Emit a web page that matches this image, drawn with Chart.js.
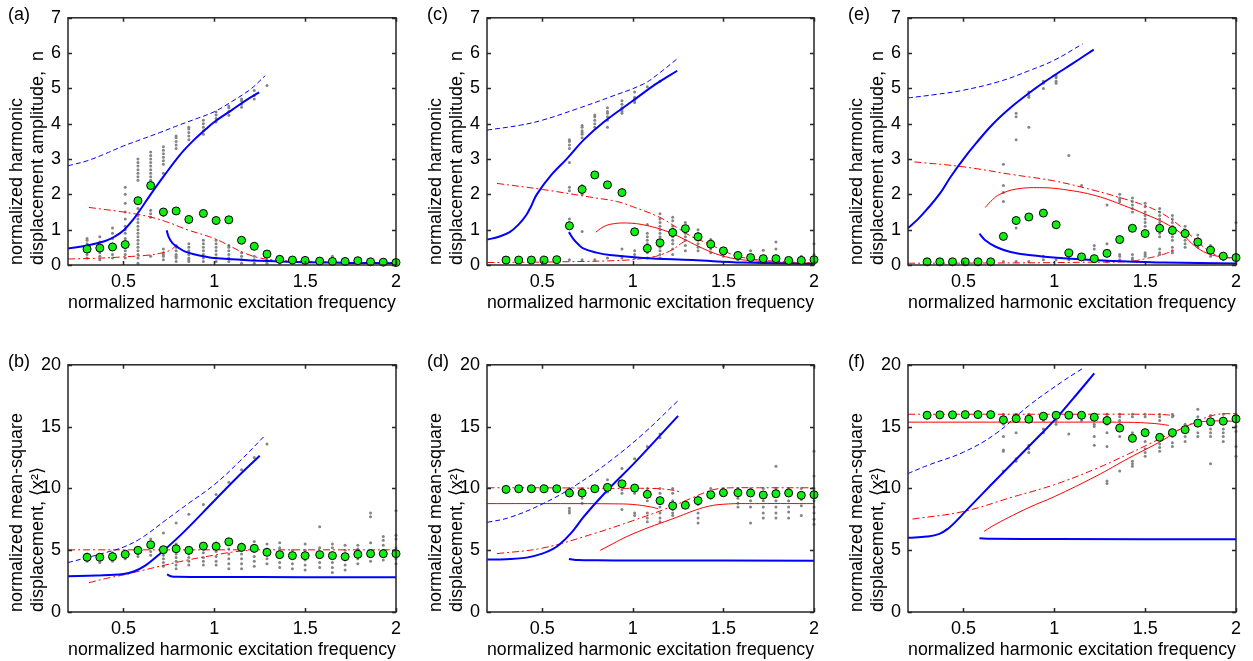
<!DOCTYPE html>
<html>
<head>
<meta charset="utf-8">
<script src="https://cdn.jsdelivr.net/npm/chart.js@4/dist/chart.umd.min.js"></script>
<style>
  body { margin: 0; background: #fff; width: 1253px; height: 661px; overflow: hidden; position: relative; }
  .panel { position: absolute; }
</style>
</head>
<body>
<div class="panel" style="left:0px;top:0px"><canvas id="pa" width="407" height="313"></canvas></div>
<div class="panel" style="left:419px;top:0px"><canvas id="pc" width="406" height="313"></canvas></div>
<div class="panel" style="left:840px;top:0px"><canvas id="pe" width="407" height="313"></canvas></div>
<div class="panel" style="left:0px;top:347px"><canvas id="pb" width="407" height="313"></canvas></div>
<div class="panel" style="left:419px;top:347px"><canvas id="pd" width="406" height="313"></canvas></div>
<div class="panel" style="left:840px;top:347px"><canvas id="pf" width="407" height="313"></canvas></div>
<script>
// excitation frequencies of the measured runs
const freq = [0.30, 0.37, 0.44, 0.51, 0.58, 0.65, 0.72, 0.79, 0.86, 0.94, 1.01, 1.08, 1.15,
              1.22, 1.29, 1.36, 1.43, 1.50, 1.58, 1.65, 1.72, 1.79, 1.86, 1.93, 2.00];
const freqTicks = [0.5, 1, 1.5, 2];
const ampTicks = [0, 1, 2, 3, 4, 5, 6, 7];
const msTicks = [0, 5, 10, 15, 20];

// mean of each run (green)
const meanA = [0.45, 0.48, 0.51, 0.58, 1.82, 2.25, 1.50, 1.53, 1.29, 1.46, 1.26, 1.28, 0.70, 0.53, 0.31, 0.16, 0.14, 0.13, 0.11, 0.10, 0.10, 0.12, 0.09, 0.08, 0.07];
const meanC = [0.14, 0.14, 0.14, 0.14, 0.15, 1.11, 2.14, 2.55, 2.27, 2.05, 0.94, 0.47, 0.63, 0.92, 1.03, 0.80, 0.59, 0.40, 0.27, 0.21, 0.18, 0.18, 0.13, 0.13, 0.15];
const meanE = [0.09, 0.09, 0.09, 0.09, 0.09, 0.09, 0.81, 1.26, 1.36, 1.47, 1.14, 0.34, 0.23, 0.18, 0.33, 0.72, 1.04, 0.89, 1.04, 0.98, 0.89, 0.65, 0.42, 0.25, 0.21];
const meanB = [4.43, 4.43, 4.48, 4.67, 4.99, 5.44, 5.04, 5.12, 4.99, 5.33, 5.31, 5.68, 5.23, 5.15, 4.83, 4.64, 4.56, 4.56, 4.64, 4.56, 4.48, 4.67, 4.72, 4.72, 4.72];
const meanD = [9.92, 9.97, 9.97, 9.97, 9.97, 9.63, 9.63, 9.97, 10.08, 10.37, 10.03, 9.52, 9.01, 8.59, 8.64, 9.01, 9.49, 9.65, 9.65, 9.63, 9.47, 9.57, 9.63, 9.44, 9.49];
const meanF = [15.92, 15.95, 15.95, 15.97, 15.97, 15.97, 15.55, 15.65, 15.60, 15.84, 15.92, 15.92, 15.92, 15.76, 15.49, 14.88, 14.05, 14.51, 14.13, 14.51, 14.75, 15.28, 15.39, 15.44, 15.63];

// single realisations, one list per frequency (grey)
const runsA = [
  [0.2, 0.3, 0.4, 0.5, 0.6, 0.7, 0.75], [0.15, 0.25, 0.35, 0.45, 0.55, 0.65, 0.8],
  [0.2, 0.3, 0.45, 0.6, 0.75, 0.9, 1.05], [0.2, 0.3, 0.4, 0.5, 0.6, 0.75, 0.9, 1.0, 1.1, 1.3, 1.5, 1.75, 2.0, 2.2],
  [0.05, 0.2, 0.3, 0.4, 0.5, 0.6, 0.7, 0.8, 0.9, 1.0, 1.1, 1.2, 1.3, 1.4, 1.6, 2.4, 2.5, 2.6, 2.7, 2.8, 2.9, 3.0],
  [0.25, 1.35, 1.45, 1.55, 2.3, 2.4, 2.5, 2.6, 2.7, 2.8, 2.9, 3.0, 3.1, 3.2],
  [0.15, 0.25, 0.3, 0.35, 0.45, 1.4, 2.6, 2.85, 2.95, 3.05, 3.15, 3.25, 3.35],
  [0.1, 0.2, 0.25, 0.3, 0.4, 0.5, 0.55, 3.3, 3.4, 3.5, 3.6, 3.65], [0.1, 0.15, 0.2, 0.3, 0.4, 0.5, 0.6, 3.55, 3.65, 3.75, 3.85, 3.9],
  [0.1, 0.2, 0.3, 0.4, 0.5, 0.6, 0.7, 3.7, 3.8, 3.9, 4.0, 4.1], [0.1, 0.2, 0.3, 0.4, 0.5, 0.6, 0.7, 4.05, 4.15, 4.25, 4.33],
  [0.1, 0.2, 0.3, 0.4, 0.5, 0.55, 4.24, 4.35, 4.45, 4.5], [0.05, 0.15, 0.25, 0.35, 4.47, 4.55, 4.65, 4.7],
  [0.05, 0.15, 0.25, 4.7, 4.8, 4.94], [0.05, 0.1, 0.15, 5.08], [0.05, 0.1, 0.2, 0.25], [0.05, 0.1, 0.15, 0.2],
  [0.05, 0.1, 0.15, 0.2], [0.05, 0.1, 0.15], [0.05, 0.1, 0.15, 0.25], [0.05, 0.1, 0.15], [0.05, 0.1, 0.15, 0.2],
  [0.05, 0.1, 0.15], [0.05, 0.1, 0.15], [0.05, 0.1]
];
const runsC = [
  [0.1], [0.1], [0.1], [0.1], [0.1, 0.15],
  [0.15, 1.2, 1.3, 2.1, 2.2, 2.9, 3.3, 3.4, 3.5, 3.55], [0.15, 0.95, 2.0, 2.1, 2.25, 3.6, 3.7, 3.75, 3.8, 3.9, 3.95],
  [0.15, 3.9, 4.0, 4.1, 4.2, 4.25], [0.2, 3.9, 4.1, 4.2, 4.3, 4.35, 4.45], [0.2, 0.45, 4.3, 4.35, 4.4, 4.45, 4.55, 4.65],
  [0.2, 0.3, 0.4, 4.6, 4.65, 4.7, 4.75, 4.9], [0.2, 0.35, 0.5, 0.6, 0.7, 0.8, 0.9, 1.15, 5.05],
  [0.2, 0.3, 0.4, 0.5, 0.6, 0.7, 0.8, 0.9, 1.0, 1.1, 1.2, 1.3, 1.45, 5.2], [0.3, 0.45, 0.6, 0.7, 0.8, 0.9, 1.0, 1.1, 1.25, 1.35],
  [0.4, 0.55, 0.7, 0.8, 0.9, 1.0, 1.1, 1.2], [0.4, 0.5, 0.6, 0.7, 0.8, 0.9, 1.0], [0.35, 0.45, 0.55, 0.65, 0.72],
  [0.25, 0.35, 0.45], [0.15, 0.2, 0.35], [0.1, 0.15, 0.4], [0.1, 0.42], [0.1, 0.45, 0.65], [0.1],
  [0.1, 0.25], [0.1, 0.3, 0.6]
];
const runsE = [
  [0.05], [0.05], [0.05], [0.05], [0.05], [0.05],
  [0.1, 1.8, 2.05, 2.25, 2.85], [0.1, 1.05, 3.55, 4.2, 4.3], [0.1, 3.9, 4.75, 4.8, 4.9],
  [0.15, 0.25, 5.0, 5.15, 5.2], [0.15, 5.15, 5.2, 5.3, 5.35], [0.15, 0.2, 3.1], [0.15, 0.25, 2.25],
  [0.2, 0.45, 0.55], [0.1, 0.35, 0.6, 1.7], [0.15, 0.25, 0.3, 1.8, 1.85, 1.9, 2.0],
  [0.15, 0.2, 0.3, 1.5, 1.6, 1.7, 1.8, 1.9], [0.25, 0.3, 0.35, 1.1, 1.2, 1.3, 1.4, 1.5, 1.65, 1.75],
  [0.3, 0.35, 0.45, 0.8, 0.9, 1.0, 1.1, 1.2, 1.3, 1.4, 1.5, 1.6], [0.35, 0.4, 0.5, 0.7, 0.8, 0.9, 1.0, 1.1, 1.2, 1.3, 1.4],
  [0.5, 0.6, 0.7, 0.8, 0.9, 1.0, 1.1], [0.5, 0.55, 0.65, 0.75, 0.85], [0.25, 0.35, 0.45, 0.55],
  [0.15, 0.2, 0.3], [0.2, 0.3, 1.2]
];
const runsB = [
  [4.1, 4.3, 4.5, 4.7], [4.0, 4.2, 4.4, 4.6], [4.1, 4.3, 4.5, 4.8], [4.3, 4.5, 4.7, 4.9], [4.5, 4.7, 4.9, 5.1],
  [4.6, 4.9, 5.2, 5.5, 5.9], [3.7, 4.0, 4.3, 4.6, 4.9, 5.2, 6.4], [3.5, 3.8, 4.1, 4.4, 4.7, 5.0, 5.5, 7.2],
  [3.8, 4.1, 4.4, 4.7, 5.0, 7.9], [3.8, 4.1, 4.4, 4.8, 5.1, 5.5, 8.7], [3.8, 4.1, 4.5, 4.9, 5.3, 5.6, 9.5],
  [3.5, 3.9, 4.3, 4.7, 5.1, 5.5, 5.8, 10.5], [3.5, 3.9, 4.3, 4.7, 5.1, 5.5, 11.5],
  [3.7, 4.1, 4.5, 4.9, 5.3, 5.7, 12.5], [3.9, 4.3, 4.7, 5.1, 5.5, 13.6], [3.6, 4.0, 4.4, 4.8, 5.2, 5.6],
  [3.5, 3.9, 4.3, 4.7, 5.0], [3.4, 3.8, 4.2, 4.6, 5.0, 5.5], [3.6, 4.0, 4.4, 4.8, 5.2, 6.9],
  [3.2, 3.6, 4.0, 4.4, 4.8, 5.2, 5.5], [3.4, 3.8, 4.2, 4.6, 5.0, 5.4], [3.9, 4.3, 4.7, 5.1, 5.4],
  [4.1, 4.5, 4.9, 5.6, 7.7, 8.0], [4.2, 4.6, 5.0, 5.4, 5.8, 6.1], [3.9, 4.3, 4.7, 5.2, 5.9, 6.2, 8.2]
];
const runsD = [
  [9.9], [9.9], [9.9], [9.9], [9.9], [8.0, 8.2, 8.4, 9.4, 9.7, 10.0], [8.8, 9.2, 9.5, 10.0], [9.8, 10.0],
  [9.7, 10.3, 10.7], [8.3, 9.6, 9.9, 10.4, 11.6], [7.8, 8.0, 9.6, 10.0, 12.4],
  [7.3, 7.6, 8.0, 9.0, 9.4, 9.7, 10.0, 13.4], [7.3, 7.6, 8.0, 8.5, 9.1, 9.6, 10.0, 14.1, 14.4],
  [7.8, 8.0, 8.3, 8.6, 9.0, 9.6, 10.0], [8.5, 8.8], [7.2, 7.6, 8.0, 8.7, 9.3], [9.2, 9.6, 10.0],
  [9.5, 9.7, 10.0, 19.9], [8.5, 8.8, 9.2, 9.5, 10.0], [7.2, 8.5, 9.0, 9.5, 10.0],
  [7.6, 8.0, 8.5, 9.0, 9.5, 10.0], [7.6, 8.0, 8.5, 9.0, 9.5, 10.0, 11.8], [7.6, 8.1, 8.5, 9.0, 9.5, 10.0],
  [7.8, 8.6, 9.1, 9.6, 10.0], [7.1, 7.5, 8.0, 8.5, 9.0, 9.5, 10.0, 11.0, 13.0]
];
const runsF = [
  [15.9], [15.9], [15.9], [15.9], [15.9], [15.9],
  [11.4, 13.0, 13.1, 14.2, 15.2, 15.6, 15.8, 16.0], [12.2, 12.4, 14.5, 15.5, 15.9, 16.0],
  [12.9, 13.2, 13.5, 15.5, 15.8, 16.0], [14.5, 14.8, 15.5, 15.8], [15.2, 15.5, 15.8, 16.0],
  [14.4, 15.8, 16.0], [15.5, 15.7, 16.0], [13.5, 14.2, 15.0, 15.2, 15.6, 16.0],
  [10.4, 10.6, 13.4, 14.5, 15.2, 15.5, 15.8, 16.0], [11.4, 14.2, 15.2, 15.5, 15.8, 16.0],
  [11.8, 12.0, 12.2, 14.5, 15.8, 16.0], [12.6, 12.9, 13.2, 13.8, 15.8, 16.0],
  [13.0, 13.3, 13.6, 14.0, 15.5, 15.8, 16.0], [13.4, 13.7, 14.2, 14.7, 15.8, 16.0],
  [13.8, 14.2, 14.8, 15.2], [14.2, 14.5, 15.4, 15.8, 16.4], [12.0, 14.2, 14.5, 14.8, 15.2, 15.6, 15.9],
  [13.8, 14.2, 14.5, 14.8, 15.3, 15.7, 16.0], [12.6, 13.4, 14.6, 15.0, 15.4, 15.7, 16.0]
];

// response curves, [frequency, value]
const aBlueDash = [[0.195, 2.81], [0.3, 2.95], [0.4, 3.15], [0.5, 3.37], [0.6, 3.56], [0.7, 3.75], [0.8, 3.95], [0.9, 4.14], [1.0, 4.34], [1.1, 4.64], [1.2, 4.98], [1.28, 5.36]];
const aBlue = [[0.195, 0.47], [0.3, 0.55], [0.4, 0.68], [0.45, 0.8], [0.505, 1.0], [0.56, 1.33], [0.6, 1.62], [0.65, 2.0], [0.72, 2.5], [0.808, 3.1], [0.88, 3.5], [0.954, 3.85], [1.0, 4.05], [1.1, 4.4], [1.17, 4.65], [1.247, 4.89]];
const aBlueLow = [[0.738, 0.98], [0.75, 0.78], [0.77, 0.62], [0.8, 0.5], [0.84, 0.38], [0.9, 0.29], [0.95, 0.24], [1.0, 0.2], [1.1, 0.16], [1.2, 0.13], [1.3, 0.11], [1.5, 0.08], [1.75, 0.06], [2.0, 0.05]];
const aRedDash = [[0.31, 1.63], [0.4, 1.57], [0.5, 1.5], [0.64, 1.37], [0.75, 1.2], [0.85, 1.0], [1.0, 0.75], [1.1, 0.5], [1.17, 0.33], [1.25, 0.2], [1.34, 0.14], [1.5, 0.1], [1.75, 0.07], [2.0, 0.06]];
const aRedDashLow = [[0.195, 0.17], [0.35, 0.19], [0.5, 0.23], [0.64, 0.28], [0.7, 0.33], [0.74, 0.38], [0.77, 0.46], [0.79, 0.56]];

const cBlueDash = [[0.195, 3.82], [0.38, 3.96], [0.5, 4.1], [0.69, 4.42], [0.87, 4.75], [1.06, 5.13], [1.15, 5.45], [1.245, 5.84]];
const cBlue = [[0.197, 0.72], [0.26, 0.8], [0.32, 0.93], [0.37, 1.15], [0.41, 1.4], [0.44, 1.68], [0.47, 2.0], [0.55, 2.55], [0.634, 3.0], [0.73, 3.55], [0.84, 4.05], [1.0, 4.65], [1.12, 5.1], [1.245, 5.5]];
const cBlueLow = [[0.647, 0.93], [0.67, 0.75], [0.7, 0.58], [0.726, 0.47], [0.8, 0.35], [0.873, 0.28], [1.056, 0.2], [1.33, 0.14], [1.61, 0.07], [2.0, 0.03]];
const cRedDash = [[0.25, 2.31], [0.5, 2.14], [0.78, 1.91], [0.91, 1.8], [1.0, 1.65], [1.148, 1.35], [1.24, 1.07], [1.33, 0.79], [1.42, 0.6], [1.5, 0.4], [1.6, 0.22], [1.75, 0.12], [2.0, 0.06]];
const cRedDashLow = [[0.197, 0.07], [0.6, 0.09], [0.97, 0.14], [1.1, 0.22], [1.15, 0.28], [1.22, 0.44], [1.27, 0.62], [1.3, 0.72]];
const cRed = [[0.796, 0.93], [0.83, 1.06], [0.873, 1.15], [0.965, 1.19], [1.075, 1.12], [1.2, 0.93], [1.295, 0.7], [1.386, 0.47], [1.48, 0.28], [1.6, 0.15], [1.8, 0.08], [2.0, 0.05]];

const eBlueDash = [[0.194, 4.73], [0.35, 4.83], [0.5, 4.95], [0.7, 5.2], [0.86, 5.5], [1.0, 5.8], [1.156, 6.26]];
const eBlue = [[0.194, 1.04], [0.25, 1.3], [0.3, 1.58], [0.37, 2.02], [0.43, 2.5], [0.5, 3.0], [0.57, 3.45], [0.66, 3.98], [0.77, 4.5], [0.89, 4.98], [1.0, 5.37], [1.1, 5.7], [1.217, 6.1]];
const eBlueLow = [[0.588, 0.89], [0.62, 0.7], [0.68, 0.51], [0.76, 0.37], [0.86, 0.28], [1.05, 0.19], [1.32, 0.11], [1.6, 0.07], [2.0, 0.04]];
const eRedDash = [[0.23, 2.92], [0.5, 2.78], [0.77, 2.56], [1.0, 2.38], [1.23, 2.1], [1.36, 1.91], [1.5, 1.68], [1.6, 1.44], [1.7, 1.07], [1.78, 0.7], [1.85, 0.4], [1.92, 0.23], [2.0, 0.19]];
const eRed = [[0.62, 1.63], [0.66, 1.85], [0.7, 2.0], [0.79, 2.15], [0.92, 2.19], [1.05, 2.14], [1.23, 1.96], [1.41, 1.63], [1.5, 1.44], [1.6, 1.21], [1.7, 0.89], [1.78, 0.51], [1.87, 0.28], [2.0, 0.19]];
const eRedDashLow = [[0.194, 0.05], [0.8, 0.06], [1.2, 0.08], [1.41, 0.1], [1.52, 0.2], [1.6, 0.3], [1.67, 0.45]];

const bBlueDash = [[0.195, 4.0], [0.3, 4.4], [0.4, 4.8], [0.5, 5.25], [0.6, 6.0], [0.73, 7.4], [0.85, 8.7], [1.0, 10.3], [1.14, 12.2], [1.28, 14.3]];
const bBlue = [[0.195, 2.9], [0.35, 2.95], [0.5, 3.07], [0.56, 3.3], [0.62, 3.75], [0.7, 4.7], [0.82, 6.3], [1.0, 9.0], [1.12, 10.8], [1.25, 12.64]];
const bBlueLow = [[0.74, 3.04], [0.76, 2.9], [0.8, 2.85], [1.0, 2.83], [1.5, 2.82], [2.0, 2.82]];
const bRedDash = [[0.195, 5.03], [0.7, 5.03], [1.2, 5.03], [2.0, 5.03]];
const bRedDashLow = [[0.31, 2.37], [0.4, 2.7], [0.5, 3.0], [0.6, 3.35], [0.73, 3.8], [0.85, 4.2], [1.0, 4.6], [1.1, 4.85], [1.2, 5.0]];

const dBlueDash = [[0.197, 7.25], [0.32, 7.65], [0.505, 8.77], [0.69, 10.3], [0.873, 12.2], [1.056, 14.4], [1.25, 17.1]];
const dBlue = [[0.197, 4.24], [0.3, 4.27], [0.414, 4.4], [0.5, 4.72], [0.56, 5.1], [0.6, 5.52], [0.66, 6.4], [0.726, 7.65], [0.8, 8.9], [0.873, 10.05], [1.0, 11.92], [1.12, 13.8], [1.25, 15.87]];
const dBlueLow = [[0.647, 4.29], [0.7, 4.2], [0.8, 4.18], [1.0, 4.17], [2.0, 4.15]];
const dRedDash = [[0.197, 10.05], [0.5, 10.05], [0.9, 10.0], [1.1, 10.0], [1.2, 9.9], [1.27, 9.7]];
const dRed = [[0.197, 8.77], [0.6, 8.77], [0.9, 8.75], [1.0, 8.7], [1.1, 8.5], [1.14, 8.35]];
const dRedDashLow = [[0.25, 4.72], [0.5, 5.17], [0.78, 6.32], [1.0, 7.39], [1.2, 8.45], [1.33, 9.25], [1.42, 9.79], [1.5, 10.02], [1.7, 10.05], [2.0, 10.05]];
const dRedLow = [[0.82, 4.99], [1.0, 6.32], [1.24, 7.65], [1.39, 8.45], [1.5, 8.72], [1.7, 8.77], [2.0, 8.77]];

const fBlueDash = [[0.194, 11.2], [0.31, 11.9], [0.5, 12.93], [0.68, 14.45], [0.86, 16.7], [1.05, 18.7], [1.156, 19.7]];
const fBlue = [[0.194, 6.0], [0.3, 6.1], [0.368, 6.32], [0.42, 6.8], [0.46, 7.35], [0.515, 8.2], [0.6, 9.5], [0.7, 11.0], [0.8, 12.5], [0.9, 14.0], [1.0, 15.5], [1.1, 17.2], [1.22, 19.3]];
const fBlueLow = [[0.588, 5.97], [0.65, 5.92], [1.0, 5.9], [2.0, 5.88]];
const fRedDash = [[0.194, 16.0], [1.0, 16.0], [1.5, 16.0], [1.62, 15.95], [1.67, 15.84]];
const fRed = [[0.194, 15.36], [1.0, 15.36], [1.4, 15.35], [1.55, 15.25], [1.63, 15.1]];
const fRedDashLow = [[0.22, 7.52], [0.5, 8.13], [0.77, 9.3], [1.0, 10.3], [1.23, 11.6], [1.41, 12.8], [1.6, 14.15], [1.78, 15.4], [1.89, 15.97], [2.0, 16.05]];
const fRedLow = [[0.614, 6.53], [0.68, 7.12], [0.86, 8.45], [1.0, 9.33], [1.23, 10.99], [1.41, 12.45], [1.6, 13.92], [1.7, 14.85], [1.81, 15.39], [2.0, 15.44]];

const ampTitle = ['normalized harmonic', 'displacement amplitude,  n'];
const msTitle = ['normalized mean-square', 'displacement, \u27E8x\u00B2\u27E9'];
const xTitle = 'normalized harmonic excitation frequency';

const FONT = '"Liberation Sans", "DejaVu Sans", Arial, sans-serif';
Chart.defaults.font.family = FONT;
Chart.defaults.color = '#000';

const lineStyle = {
  blue:     { borderColor: '#0000ff', borderWidth: 2 },
  blueDash: { borderColor: '#0000ff', borderWidth: 1, borderDash: [5, 3] },
  red:      { borderColor: '#ff0000', borderWidth: 1 },
  redDash:  { borderColor: '#ff0000', borderWidth: 1, borderDash: [7, 3, 2, 3] }
};

// frame with inward tick marks on all four sides
const frame = {
  id: 'frame',
  afterDraw(chart) {
    const { ctx, chartArea: a, scales: { x, y } } = chart;
    ctx.save();
    ctx.strokeStyle = '#262626';
    ctx.lineWidth = 1.5;
    ctx.beginPath();
    x.ticks.forEach(t => {
      const px = Math.round(x.getPixelForValue(t.value)) + 0.5;
      ctx.moveTo(px, a.bottom); ctx.lineTo(px, a.bottom - 4);
      ctx.moveTo(px, a.top); ctx.lineTo(px, a.top + 4);
    });
    y.ticks.forEach(t => {
      const py = Math.round(y.getPixelForValue(t.value)) + 0.5;
      ctx.moveTo(a.left, py); ctx.lineTo(a.left + 4, py);
      ctx.moveTo(a.right, py); ctx.lineTo(a.right - 4, py);
    });
    ctx.stroke();
    ctx.strokeRect(a.left, a.top, a.right - a.left, a.bottom - a.top);
    ctx.restore();
  }
};

// "(a)", "(b)" ... in the top left corner
const panelTag = {
  id: 'panelTag',
  afterDraw(chart, args, opts) {
    const ctx = chart.ctx;
    ctx.save();
    ctx.font = '18px ' + FONT;
    ctx.fillStyle = '#000';
    ctx.textBaseline = 'middle';
    ctx.fillText(opts.text, 8, 15);
    ctx.restore();
  }
};

function pts(list) {
  return list.map(p => ({ x: p[0], y: p[1] }));
}

function makePanel(id, tag, yMax, yTicks, yTitle, means, runs, curves) {
  const runPts = [];
  runs.forEach((col, i) => col.forEach(v => runPts.push({ x: freq[i], y: v })));

  const datasets = [{
    data: means.map((v, i) => ({ x: freq[i], y: v })),
    pointRadius: 4, pointBackgroundColor: '#11ee11', pointBorderColor: '#000',
    pointBorderWidth: 1, clip: false
  }];
  curves.forEach(c => {
    datasets.push(Object.assign({
      data: pts(c[0]), showLine: true, pointRadius: 0, fill: false, tension: 0.4
    }, lineStyle[c[1]]));
  });
  datasets.push({
    data: runPts, pointRadius: 1.5, pointBackgroundColor: '#858585',
    pointBorderWidth: 0, clip: false
  });

  new Chart(document.getElementById(id), {
    type: 'scatter',
    data: { datasets },
    options: {
      responsive: false,
      animation: false,
      devicePixelRatio: 1,
      layout: { padding: { top: 15, right: 10, left: 0, bottom: 0 } },
      plugins: { legend: { display: false }, tooltip: { enabled: false }, panelTag: { text: tag } },
      scales: {
        x: {
          type: 'linear', min: 0.195, max: 2,
          afterBuildTicks: s => { s.ticks = freqTicks.map(v => ({ value: v })); },
          afterFit: s => { s.height = 48; },
          grid: { display: false, drawTicks: false },
          border: { display: false },
          ticks: { font: { size: 18 }, padding: 6, maxRotation: 0, callback: v => String(v) },
          title: { display: true, text: xTitle, font: { size: 18, lineHeight: 1.15 }, padding: { top: 0, bottom: 0 } }
        },
        y: {
          type: 'linear', min: 0, max: yMax,
          afterBuildTicks: s => { s.ticks = yTicks.map(v => ({ value: v })); },
          afterFit: s => { s.width = 68; },
          grid: { display: false, drawTicks: false },
          border: { display: false },
          ticks: { font: { size: 18 }, padding: 7, callback: v => String(v) },
          title: { display: true, text: yTitle, align: 'start', font: { size: 18, lineHeight: 1.15 }, padding: { top: 7, bottom: 0 } }
        }
      }
    },
    plugins: [frame, panelTag]
  });
}

makePanel('pa', '(a)', 7, ampTicks, ampTitle, meanA, runsA, [
  [aBlue, 'blue'], [aBlueLow, 'blue'], [aBlueDash, 'blueDash'], [aRedDash, 'redDash'], [aRedDashLow, 'redDash']
]);
makePanel('pc', '(c)', 7, ampTicks, ampTitle, meanC, runsC, [
  [cBlue, 'blue'], [cBlueLow, 'blue'], [cBlueDash, 'blueDash'], [cRed, 'red'], [cRedDash, 'redDash'], [cRedDashLow, 'redDash']
]);
makePanel('pe', '(e)', 7, ampTicks, ampTitle, meanE, runsE, [
  [eBlue, 'blue'], [eBlueLow, 'blue'], [eBlueDash, 'blueDash'], [eRed, 'red'], [eRedDash, 'redDash'], [eRedDashLow, 'redDash']
]);
makePanel('pb', '(b)', 20, msTicks, msTitle, meanB, runsB, [
  [bBlue, 'blue'], [bBlueLow, 'blue'], [bBlueDash, 'blueDash'], [bRedDash, 'redDash'], [bRedDashLow, 'redDash']
]);
makePanel('pd', '(d)', 20, msTicks, msTitle, meanD, runsD, [
  [dBlue, 'blue'], [dBlueLow, 'blue'], [dBlueDash, 'blueDash'], [dRed, 'red'], [dRedLow, 'red'], [dRedDash, 'redDash'], [dRedDashLow, 'redDash']
]);
makePanel('pf', '(f)', 20, msTicks, msTitle, meanF, runsF, [
  [fBlue, 'blue'], [fBlueLow, 'blue'], [fBlueDash, 'blueDash'], [fRed, 'red'], [fRedLow, 'red'], [fRedDash, 'redDash'], [fRedDashLow, 'redDash']
]);
</script>
</body>
</html>
